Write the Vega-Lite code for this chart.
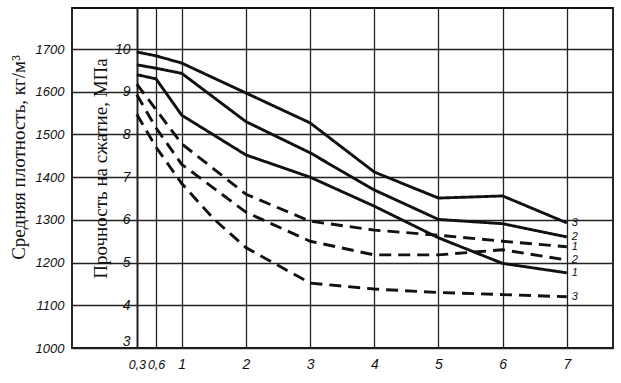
{
  "$schema": "https://vega.github.io/schema/vega-lite/v6.json",
  "width": 541,
  "height": 340,
  "autosize": {"type": "none"},
  "padding": {"left": 72, "top": 8, "right": 8, "bottom": 35},
  "background": "white",
  "config": {
    "view": {"stroke": "#111", "strokeWidth": 1.8},
    "axis": {
      "domain": false,
      "ticks": false,
      "tickSize": 0,
      "labelFont": "Liberation Sans",
      "labelFontStyle": "italic",
      "labelFontSize": 13,
      "labelColor": "#111",
      "titleFont": "Liberation Serif",
      "titleFontWeight": "normal",
      "titleFontSize": 19,
      "titleColor": "#111",
      "gridColor": "#222",
      "gridOpacity": 1,
      "gridWidth": 1.3
    }
  },
  "data": {
    "values": [
      {"series": "s3", "kind": "solid", "label": "3", "x": 0.3, "y": 9.93},
      {"series": "s3", "kind": "solid", "label": "3", "x": 0.6, "y": 9.84},
      {"series": "s3", "kind": "solid", "label": "3", "x": 1, "y": 9.67},
      {"series": "s3", "kind": "solid", "label": "3", "x": 2, "y": 8.97},
      {"series": "s3", "kind": "solid", "label": "3", "x": 3, "y": 8.27},
      {"series": "s3", "kind": "solid", "label": "3", "x": 4, "y": 7.12},
      {"series": "s3", "kind": "solid", "label": "3", "x": 5, "y": 6.51},
      {"series": "s3", "kind": "solid", "label": "3", "x": 6, "y": 6.56},
      {"series": "s3", "kind": "solid", "label": "3", "x": 7, "y": 5.93},
      {"series": "s2", "kind": "solid", "label": "2", "x": 0.3, "y": 9.63},
      {"series": "s2", "kind": "solid", "label": "2", "x": 0.6, "y": 9.55},
      {"series": "s2", "kind": "solid", "label": "2", "x": 1, "y": 9.43},
      {"series": "s2", "kind": "solid", "label": "2", "x": 2, "y": 8.3},
      {"series": "s2", "kind": "solid", "label": "2", "x": 3, "y": 7.57},
      {"series": "s2", "kind": "solid", "label": "2", "x": 4, "y": 6.7},
      {"series": "s2", "kind": "solid", "label": "2", "x": 5, "y": 6.01},
      {"series": "s2", "kind": "solid", "label": "2", "x": 6, "y": 5.91},
      {"series": "s2", "kind": "solid", "label": "2", "x": 7, "y": 5.6},
      {"series": "s1", "kind": "solid", "label": "1", "x": 0.3, "y": 9.4},
      {"series": "s1", "kind": "solid", "label": "1", "x": 0.6, "y": 9.3},
      {"series": "s1", "kind": "solid", "label": "1", "x": 1, "y": 8.45},
      {"series": "s1", "kind": "solid", "label": "1", "x": 2, "y": 7.52},
      {"series": "s1", "kind": "solid", "label": "1", "x": 3, "y": 7.0},
      {"series": "s1", "kind": "solid", "label": "1", "x": 4, "y": 6.32},
      {"series": "s1", "kind": "solid", "label": "1", "x": 5, "y": 5.58},
      {"series": "s1", "kind": "solid", "label": "1", "x": 6, "y": 4.98},
      {"series": "s1", "kind": "solid", "label": "1", "x": 7, "y": 4.76},
      {"series": "d1", "kind": "dashed", "label": "1", "x": 0.3, "y": 9.18},
      {"series": "d1", "kind": "dashed", "label": "1", "x": 0.6, "y": 8.58},
      {"series": "d1", "kind": "dashed", "label": "1", "x": 1, "y": 7.78},
      {"series": "d1", "kind": "dashed", "label": "1", "x": 2, "y": 6.6},
      {"series": "d1", "kind": "dashed", "label": "1", "x": 3, "y": 5.97},
      {"series": "d1", "kind": "dashed", "label": "1", "x": 4, "y": 5.76},
      {"series": "d1", "kind": "dashed", "label": "1", "x": 5, "y": 5.64},
      {"series": "d1", "kind": "dashed", "label": "1", "x": 6, "y": 5.5},
      {"series": "d1", "kind": "dashed", "label": "1", "x": 7, "y": 5.37},
      {"series": "d2", "kind": "dashed", "label": "2", "x": 0.3, "y": 8.93},
      {"series": "d2", "kind": "dashed", "label": "2", "x": 0.6, "y": 8.15},
      {"series": "d2", "kind": "dashed", "label": "2", "x": 1, "y": 7.3},
      {"series": "d2", "kind": "dashed", "label": "2", "x": 2, "y": 6.18},
      {"series": "d2", "kind": "dashed", "label": "2", "x": 3, "y": 5.5},
      {"series": "d2", "kind": "dashed", "label": "2", "x": 4, "y": 5.18},
      {"series": "d2", "kind": "dashed", "label": "2", "x": 5, "y": 5.18},
      {"series": "d2", "kind": "dashed", "label": "2", "x": 6, "y": 5.3},
      {"series": "d2", "kind": "dashed", "label": "2", "x": 7, "y": 5.06},
      {"series": "d3", "kind": "dashed", "label": "3", "x": 0.3, "y": 8.47},
      {"series": "d3", "kind": "dashed", "label": "3", "x": 0.6, "y": 7.7},
      {"series": "d3", "kind": "dashed", "label": "3", "x": 1, "y": 6.85},
      {"series": "d3", "kind": "dashed", "label": "3", "x": 1.5, "y": 6.02},
      {"series": "d3", "kind": "dashed", "label": "3", "x": 2, "y": 5.35},
      {"series": "d3", "kind": "dashed", "label": "3", "x": 3, "y": 4.52},
      {"series": "d3", "kind": "dashed", "label": "3", "x": 4, "y": 4.38},
      {"series": "d3", "kind": "dashed", "label": "3", "x": 5, "y": 4.3},
      {"series": "d3", "kind": "dashed", "label": "3", "x": 6, "y": 4.25},
      {"series": "d3", "kind": "dashed", "label": "3", "x": 7, "y": 4.2}
    ]
  },
  "layer": [
    {
      "mark": {"type": "line", "strokeWidth": 2.9, "color": "#111", "strokeJoin": "round"},
      "encoding": {
        "x": {
          "field": "x",
          "type": "quantitative",
          "scale": {"domain": [-0.71, 7.72], "nice": false, "zero": false},
          "axis": {
            "values": [0.3, 0.6, 1, 2, 3, 4, 5, 6, 7],
            "labelExpr": "replace(format(datum.value, ''), '.', ',')",
            "labelOverlap": false,
            "labelFlush": false,
            "labelBaseline": "middle",
            "grid": true,
            "gridWidth": {"condition": {"test": "datum.value == 0.3", "value": 2}, "value": 1.3},
            "title": null,
            "labelPadding": 16,
            "labelFontSize": {"condition": {"test": "datum.value < 1", "value": 12.5}, "value": 14}
          }
        },
        "y": {
          "field": "y",
          "type": "quantitative",
          "scale": {"domain": [3, 10.96], "nice": false, "zero": false},
          "axis": {
            "orient": "left",
            "values": [3, 4, 5, 6, 7, 8, 9, 10],
            "grid": true,
            "labelPadding": -58,
            "labelFlush": true,
            "labelOverlap": false,
            "labelFontSize": 14,
            "title": "Прочность на сжатие, МПа",
            "titleX": 28,
            "titleY": 160,
            "titleAngle": -90,
            "titleAlign": "center",
            "titleBaseline": "middle"
          }
        },
        "detail": {"field": "series"},
        "strokeDash": {
          "field": "kind",
          "type": "nominal",
          "scale": {"domain": ["solid", "dashed"], "range": [[1, 0], [12, 7]]},
          "legend": null
        }
      }
    },
    {
      "transform": [{"filter": "datum.x == 7"}],
      "mark": {"type": "text", "align": "left", "dx": 5, "font": "Liberation Sans", "fontStyle": "italic", "fontSize": 11, "color": "#111"},
      "encoding": {
        "x": {"field": "x", "type": "quantitative"},
        "y": {
          "field": "y",
          "type": "quantitative",
          "axis": {
            "orient": "left",
            "values": [3, 4, 5, 6, 7, 8, 9, 10],
            "grid": false,
            "labelPadding": 8,
            "labelOverlap": false,
            "labelExpr": "format(1000 + (datum.value - 3) * 100, 'd')",
            "title": "Средняя плотность, кг/м³",
            "titleX": -54,
            "titleY": 149,
            "titleAngle": -90,
            "titleAlign": "center",
            "titleBaseline": "middle"
          }
        },
        "text": {"field": "label"}
      }
    }
  ],
  "resolve": {"axis": {"y": "independent"}}
}
